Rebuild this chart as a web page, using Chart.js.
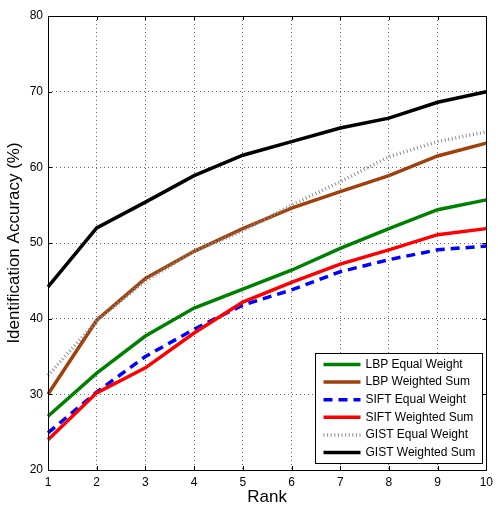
<!DOCTYPE html>
<html>
<head>
<meta charset="utf-8">
<script src="https://cdn.jsdelivr.net/npm/chart.js@4"></script>
<style>
  html, body { margin: 0; padding: 0; background: #fff; }
  #wrap { width: 498px; height: 508px; position: relative; }
</style>
</head>
<body>
<div id="wrap"><canvas id="myChart" width="498" height="508"></canvas></div>
<script>
// rank 1..10
var ranks = ['1', '2', '3', '4', '5', '6', '7', '8', '9', '10'];

var lbpEqual    = [27.1, 32.8, 37.7, 41.4, 43.9, 46.4, 49.3, 51.9, 54.4, 55.7];
var lbpWeighted = [30.0, 39.8, 45.3, 48.9, 51.9, 54.6, 56.8, 58.9, 61.5, 63.2];
var siftEqual   = [24.9, 30.3, 35.0, 38.6, 41.8, 43.8, 46.2, 47.8, 49.1, 49.6];
var siftWeighted= [24.0, 30.2, 33.5, 38.1, 42.2, 44.8, 47.2, 49.1, 51.1, 51.9];
var gistEqual   = [32.5, 39.7, 45.0, 48.9, 51.6, 55.0, 58.1, 61.4, 63.4, 64.7];
var gistWeighted= [44.2, 52.0, 55.4, 58.9, 61.6, 63.4, 65.2, 66.5, 68.6, 70.0];

var seriesNames = ['LBP Equal Weight', 'LBP Weighted Sum', 'SIFT Equal Weight',
                   'SIFT Weighted Sum', 'GIST Equal Weight', 'GIST Weighted Sum'];
var yTicks = [20, 30, 40, 50, 60, 70, 80];

var FONT = '"Liberation Sans", Arial, sans-serif';

function ds(label, data, color, width, dash, idx) {
	return {
		label: label,
		data: data,
		borderColor: color,
		backgroundColor: color,
		borderWidth: width,
		borderDash: dash,
		pointRadius: 0,
		tension: 0,
		fill: false,
		order: 10 - idx
	};
}

var datasets = [
	ds(seriesNames[0], lbpEqual, '#008000', 3.5, [], 0),
	ds(seriesNames[1], lbpWeighted, '#a0400c', 3.5, [], 1),
	ds(seriesNames[2], siftEqual, '#0000ff', 3.5, [9, 6], 2),
	ds(seriesNames[3], siftWeighted, '#ff0000', 3.5, [], 3),
	ds(seriesNames[4], gistEqual, '#8c8c8c', 3.5, [1, 2.6], 4),
	ds(seriesNames[5], gistWeighted, '#000000', 3.5, [], 5)
];

// box, inward ticks and legend
var framePlugin = {
	id: 'frame',
	afterDatasetsDraw: function(chart) {
		var c = chart.ctx, a = chart.chartArea;
		var xs = chart.scales.x, ys = chart.scales.y;
		c.save();
		c.strokeStyle = '#000';
		c.lineWidth = 1;
		c.setLineDash([]);
		c.strokeRect(Math.round(a.left) + 0.5, Math.round(a.top) + 0.5,
			Math.round(a.right - a.left), Math.round(a.bottom - a.top));
		c.beginPath();
		for (var i = 0; i < ranks.length; i++) {
			var px = Math.round(xs.getPixelForValue(i)) + 0.5;
			c.moveTo(px, a.bottom); c.lineTo(px, a.bottom - 4);
			c.moveTo(px, a.top); c.lineTo(px, a.top + 4);
		}
		for (var j = 0; j < yTicks.length; j++) {
			var py = Math.round(ys.getPixelForValue(yTicks[j])) + 0.5;
			c.moveTo(a.left, py); c.lineTo(a.left + 4, py);
			c.moveTo(a.right, py); c.lineTo(a.right - 4, py);
		}
		c.stroke();

		// legend box
		var bx = 315.5, by = 353.5, bw = 167, bh = 110;
		c.fillStyle = '#fff';
		c.fillRect(bx, by, bw, bh);
		c.strokeRect(bx, by, bw, bh);
		c.font = '12px ' + FONT;
		c.textBaseline = 'middle';
		for (var k = 0; k < datasets.length; k++) {
			var d = datasets[k];
			var ly = by + 11 + k * 17.6;
			c.beginPath();
			c.strokeStyle = d.borderColor;
			c.lineWidth = d.borderWidth;
			c.setLineDash(d.borderDash);
			c.moveTo(bx + 8, ly);
			c.lineTo(bx + 45, ly);
			c.stroke();
			c.setLineDash([]);
			c.fillStyle = '#000';
			c.fillText(d.label, bx + 50, ly);
		}
		c.restore();
	}
};

var ctx = document.getElementById('myChart');
var myChart = new Chart(ctx, {
	type: 'line',
	data: { labels: ranks, datasets: datasets },
	plugins: [framePlugin],
	options: {
		responsive: false,
		animation: false,
		layout: { padding: { top: 16, right: 11, left: 0, bottom: 0 } },
		plugins: { legend: { display: false }, tooltip: { enabled: false } },
		scales: {
			x: {
				offset: false,
				grid: { color: '#666', drawTicks: false, lineWidth: 1 },
				border: { display: false, dash: [1, 3] },
				ticks: { color: '#000', font: { family: FONT, size: 12 }, padding: 5, maxRotation: 0 },
				title: { display: true, text: 'Rank', color: '#000', font: { family: FONT, size: 17 }, padding: { top: 0, bottom: 0 } },
				afterFit: function(s) { s.height = 38; }
			},
			y: {
				min: 20, max: 80,
				afterBuildTicks: function(s) { s.ticks = yTicks.map(function(v) { return { value: v }; }); },
				grid: { color: '#666', drawTicks: false, lineWidth: 1 },
				border: { display: false, dash: [1, 3] },
				ticks: { color: '#000', font: { family: FONT, size: 12 }, padding: 5 },
				title: { display: true, text: 'Identification Accuracy (%)', color: '#000', font: { family: FONT, size: 17 }, padding: { top: 4, bottom: 2 } },
				afterFit: function(s) { s.width = 48; }
			}
		}
	}
});
</script>
</body>
</html>
